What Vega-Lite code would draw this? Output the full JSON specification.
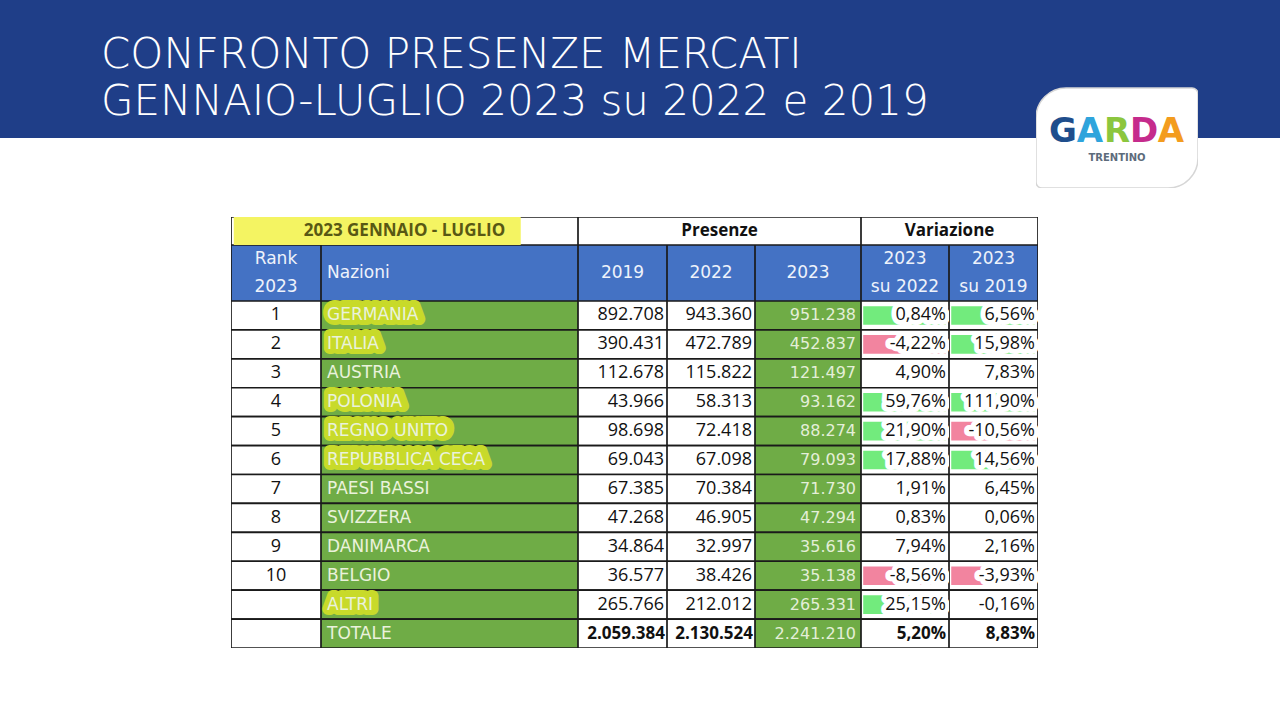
{
  "$schema": "https://vega.github.io/schema/vega-lite/v6.json",
  "padding": 0,
  "background": "white",
  "config": {
    "view": {"stroke": null},
    "locale": {"number": {"decimal": ",", "thousands": ".", "grouping": [3], "currency": ["", " €"], "minus": "-"}}
  },
  "datasets": {
    "tab": [
      {"rank": 1, "nazione": "GERMANIA", "v2019": 892708, "v2022": 943360, "v2023": 951238, "var22": 0.0084, "var19": 0.0656},
      {"rank": 2, "nazione": "ITALIA", "v2019": 390431, "v2022": 472789, "v2023": 452837, "var22": -0.0422, "var19": 0.1598},
      {"rank": 3, "nazione": "AUSTRIA", "v2019": 112678, "v2022": 115822, "v2023": 121497, "var22": 0.049, "var19": 0.0783},
      {"rank": 4, "nazione": "POLONIA", "v2019": 43966, "v2022": 58313, "v2023": 93162, "var22": 0.5976, "var19": 1.119},
      {"rank": 5, "nazione": "REGNO UNITO", "v2019": 98698, "v2022": 72418, "v2023": 88274, "var22": 0.219, "var19": -0.1056},
      {"rank": 6, "nazione": "REPUBBLICA CECA", "v2019": 69043, "v2022": 67098, "v2023": 79093, "var22": 0.1788, "var19": 0.1456},
      {"rank": 7, "nazione": "PAESI BASSI", "v2019": 67385, "v2022": 70384, "v2023": 71730, "var22": 0.0191, "var19": 0.0645},
      {"rank": 8, "nazione": "SVIZZERA", "v2019": 47268, "v2022": 46905, "v2023": 47294, "var22": 0.0083, "var19": 0.0006},
      {"rank": 9, "nazione": "DANIMARCA", "v2019": 34864, "v2022": 32997, "v2023": 35616, "var22": 0.0794, "var19": 0.0216},
      {"rank": 10, "nazione": "BELGIO", "v2019": 36577, "v2022": 38426, "v2023": 35138, "var22": -0.0856, "var19": -0.0393},
      {"rank": null, "nazione": "ALTRI", "v2019": 265766, "v2022": 212012, "v2023": 265331, "var22": 0.2515, "var19": -0.0016},
      {"rank": null, "nazione": "TOTALE", "v2019": 2059384, "v2022": 2130524, "v2023": 2241210, "var22": 0.052, "var19": 0.0883}
    ]
  },
  "spacing": 29,
  "vconcat": [
    {
      "spacing": 0,
      "bounds": "flush",
      "hconcat": [
        {
          "width": 1036, "height": 138,
          "data": {"values": [{"line": "CONFRONTO PRESENZE MERCATI\nGENNAIO-LUGLIO 2023 su 2022 e 2019"}]},
          "layer": [
            {"mark": {"type": "rect", "color": "#1f3e88"}, "encoding": {}},
            {"mark": {"type": "text", "align": "left", "baseline": "alphabetic", "dx": 101, "dy": -1, "lineBreak": "\n", "lineHeight": 47, "color": "white", "font": "DejaVu Sans", "fontSize": 42, "fontWeight": 200},
             "encoding": {"x": {"datum": 0, "type": "quantitative", "scale": {"domain": [0, 1]}, "axis": null}, "text": {"field": "line"}}}
          ]
        },
        {
          "width": 162, "height": 188,
          "layer": [
            {
              "data": {"values": [{}]},
              "mark": {"type": "rect", "color": "#1f3e88"},
              "encoding": {"y": {"datum": 0, "type": "quantitative", "scale": {"domain": [0, 1], "reverse": true}, "axis": null}, "y2": {"datum": 0.734}}
            },
            {
              "data": {"values": [{}]},
              "mark": {"type": "rect", "color": "white", "stroke": "#d6d6d6", "strokeWidth": 1.5, "clip": true, "cornerRadiusTopLeft": 30, "cornerRadiusBottomRight": 30, "cornerRadiusTopRight": 6, "cornerRadiusBottomLeft": 6},
              "encoding": {"y": {"datum": 0.468, "type": "quantitative", "scale": {"domain": [0, 1], "reverse": true}, "axis": null}, "y2": {"datum": 1}}
            },
            {
              "data": {"values": [{"i": 1, "letter": "G"}, {"i": 2, "letter": "A"}, {"i": 3, "letter": "R"}, {"i": 4, "letter": "D"}, {"i": 5, "letter": "A"}]},
              "mark": {"type": "text", "font": "DejaVu Sans", "fontWeight": "bold", "fontSize": 34},
              "encoding": {
                "x": {"field": "i", "type": "ordinal", "scale": {"padding": 1.15}, "axis": null},
                "y": {"datum": 0.7, "type": "quantitative", "scale": {"domain": [0, 1], "reverse": true}, "axis": null},
                "text": {"field": "letter"},
                "color": {"field": "i", "type": "ordinal", "scale": {"range": ["#1f4e8c", "#2fa4dc", "#8cc63e", "#c52b8c", "#f39c1e"]}, "legend": null}
              }
            },
            {
              "data": {"values": [{"t": "TRENTINO"}]},
              "mark": {"type": "text", "font": "DejaVu Sans", "fontWeight": "bold", "fontSize": 10, "color": "#5d6b7b"},
              "encoding": {"y": {"datum": 0.843, "type": "quantitative", "scale": {"domain": [0, 1], "reverse": true}, "axis": null}, "text": {"field": "t"}}
            }
          ]
        },
        {
          "width": 82, "height": 138,
          "data": {"values": [{}]},
          "mark": {"type": "rect", "color": "#1f3e88"},
          "encoding": {}
        }
      ]
    },
    {
      "spacing": 0,
      "hconcat": [
        {
          "width": 231, "height": 1,
          "data": {"values": [{}]},
          "mark": {"type": "rect", "opacity": 0},
          "encoding": {}
        },
        {
          "spacing": 0,
          "vconcat": [
            {
              "spacing": 0,
              "bounds": "flush",
              "hconcat": [
                {
                  "width": 347, "height": 28,
                  "data": {"values": [{"label": "2023 GENNAIO - LUGLIO"}]},
                  "layer": [
                    {"mark": {"type": "rect", "fill": "white", "stroke": "#1a1a1a", "strokeWidth": 1.7, "clip": true}, "encoding": {}},
                    {"mark": {"type": "rect", "color": "#f4f462"}, "encoding": {"x": {"datum": 0.008, "type": "quantitative", "scale": {"domain": [0, 1]}, "axis": null}, "x2": {"datum": 0.835}}},
                    {"mark": {"type": "text", "font": "Open Sans", "fontWeight": "bold", "fontSize": 17, "color": "#585814"}, "encoding": {"text": {"field": "label"}}}
                  ]
                },
                {
                  "width": 283, "height": 28,
                  "data": {"values": [{"label": "Presenze"}]},
                  "layer": [
                    {"mark": {"type": "rect", "fill": "white", "stroke": "#1a1a1a", "strokeWidth": 1.7, "clip": true}, "encoding": {}},
                    {"mark": {"type": "text", "font": "Open Sans", "fontWeight": "bold", "fontSize": 17, "color": "#111111"}, "encoding": {"text": {"field": "label"}}}
                  ]
                },
                {
                  "width": 177, "height": 28,
                  "data": {"values": [{"label": "Variazione"}]},
                  "layer": [
                    {"mark": {"type": "rect", "fill": "white", "stroke": "#1a1a1a", "strokeWidth": 1.7, "clip": true}, "encoding": {}},
                    {"mark": {"type": "text", "font": "Open Sans", "fontWeight": "bold", "fontSize": 17, "color": "#111111"}, "encoding": {"text": {"field": "label"}}}
                  ]
                }
              ]
            },
            {
              "spacing": 0,
              "bounds": "flush",
              "hconcat": [
                {
                  "width": 90, "height": 56,
                  "data": {"values": [{"label": "Rank\n2023"}]},
                  "layer": [
                    {"mark": {"type": "rect", "fill": "#4472c4", "stroke": "#1a1a1a", "strokeWidth": 1.7, "clip": true}, "encoding": {}},
                    {"mark": {"type": "text", "font": "DejaVu Sans", "fontSize": 17, "color": "#eef2fb", "lineBreak": "\n", "lineHeight": 28, "dy": -14}, "encoding": {"text": {"field": "label"}}}
                  ]
                },
                {
                  "width": 257, "height": 56,
                  "data": {"values": [{"label": "Nazioni"}]},
                  "layer": [
                    {"mark": {"type": "rect", "fill": "#4472c4", "stroke": "#1a1a1a", "strokeWidth": 1.7, "clip": true}, "encoding": {}},
                    {"mark": {"type": "text", "font": "DejaVu Sans", "fontSize": 17, "color": "#eef2fb", "align": "left", "dx": 6}, "encoding": {"x": {"datum": 0, "type": "quantitative", "scale": {"domain": [0, 1]}, "axis": null}, "text": {"field": "label"}}}
                  ]
                },
                {
                  "width": 89, "height": 56,
                  "data": {"values": [{"label": "2019"}]},
                  "layer": [
                    {"mark": {"type": "rect", "fill": "#4472c4", "stroke": "#1a1a1a", "strokeWidth": 1.7, "clip": true}, "encoding": {}},
                    {"mark": {"type": "text", "font": "DejaVu Sans", "fontSize": 17, "color": "#eef2fb"}, "encoding": {"text": {"field": "label"}}}
                  ]
                },
                {
                  "width": 88, "height": 56,
                  "data": {"values": [{"label": "2022"}]},
                  "layer": [
                    {"mark": {"type": "rect", "fill": "#4472c4", "stroke": "#1a1a1a", "strokeWidth": 1.7, "clip": true}, "encoding": {}},
                    {"mark": {"type": "text", "font": "DejaVu Sans", "fontSize": 17, "color": "#eef2fb"}, "encoding": {"text": {"field": "label"}}}
                  ]
                },
                {
                  "width": 106, "height": 56,
                  "data": {"values": [{"label": "2023"}]},
                  "layer": [
                    {"mark": {"type": "rect", "fill": "#4472c4", "stroke": "#1a1a1a", "strokeWidth": 1.7, "clip": true}, "encoding": {}},
                    {"mark": {"type": "text", "font": "DejaVu Sans", "fontSize": 17, "color": "#eef2fb"}, "encoding": {"text": {"field": "label"}}}
                  ]
                },
                {
                  "width": 88, "height": 56,
                  "data": {"values": [{"label": "2023\nsu 2022"}]},
                  "layer": [
                    {"mark": {"type": "rect", "fill": "#4472c4", "stroke": "#1a1a1a", "strokeWidth": 1.7, "clip": true}, "encoding": {}},
                    {"mark": {"type": "text", "font": "DejaVu Sans", "fontSize": 17, "color": "#eef2fb", "lineBreak": "\n", "lineHeight": 28, "dy": -14}, "encoding": {"text": {"field": "label"}}}
                  ]
                },
                {
                  "width": 89, "height": 56,
                  "data": {"values": [{"label": "2023\nsu 2019"}]},
                  "layer": [
                    {"mark": {"type": "rect", "fill": "#4472c4", "stroke": "#1a1a1a", "strokeWidth": 1.7, "clip": true}, "encoding": {}},
                    {"mark": {"type": "text", "font": "DejaVu Sans", "fontSize": 17, "color": "#eef2fb", "lineBreak": "\n", "lineHeight": 28, "dy": -14}, "encoding": {"text": {"field": "label"}}}
                  ]
                }
              ]
            },
            {
              "spacing": 0,
              "bounds": "flush",
              "hconcat": [
                {
                  "width": 90, "height": 347,
                  "data": {"name": "tab"},
                  "layer": [
                    {"mark": {"type": "rect", "fill": "white", "stroke": "#1a1a1a", "strokeWidth": 1.7, "clip": true},
                     "encoding": {"y": {"field": "nazione", "type": "nominal", "sort": null, "scale": {"domain": ["GERMANIA", "ITALIA", "AUSTRIA", "POLONIA", "REGNO UNITO", "REPUBBLICA CECA", "PAESI BASSI", "SVIZZERA", "DANIMARCA", "BELGIO", "ALTRI", "TOTALE"], "paddingInner": 0, "paddingOuter": 0}, "axis": null}}},
                    {"transform": [{"filter": {"field": "rank", "valid": true}}],
                     "mark": {"type": "text", "font": "Open Sans", "fontSize": 18, "color": "#111111"},
                     "encoding": {"y": {"field": "nazione", "type": "nominal", "sort": null, "scale": {"domain": ["GERMANIA", "ITALIA", "AUSTRIA", "POLONIA", "REGNO UNITO", "REPUBBLICA CECA", "PAESI BASSI", "SVIZZERA", "DANIMARCA", "BELGIO", "ALTRI", "TOTALE"], "paddingInner": 0, "paddingOuter": 0}, "axis": null},
                                  "text": {"field": "rank", "type": "quantitative", "format": "d"}}}
                  ]
                },
                {
                  "width": 257, "height": 347,
                  "data": {"name": "tab"},
                  "layer": [
                    {"mark": {"type": "rect", "fill": "#6fac46", "stroke": "#1a1a1a", "strokeWidth": 1.7, "clip": true},
                     "encoding": {"y": {"field": "nazione", "type": "nominal", "sort": null, "scale": {"domain": ["GERMANIA", "ITALIA", "AUSTRIA", "POLONIA", "REGNO UNITO", "REPUBBLICA CECA", "PAESI BASSI", "SVIZZERA", "DANIMARCA", "BELGIO", "ALTRI", "TOTALE"], "paddingInner": 0, "paddingOuter": 0}, "axis": null}}},
                    {"transform": [{"filter": {"field": "nazione", "oneOf": ["GERMANIA", "ITALIA", "POLONIA", "REGNO UNITO", "REPUBBLICA CECA", "ALTRI"]}}],
                     "mark": {"type": "text", "font": "DejaVu Sans", "fontSize": 17, "align": "left", "dx": 7, "dy": -1, "color": "#c8da2a", "stroke": "#c8da2a", "strokeWidth": 12, "strokeJoin": "round"},
                     "encoding": {"y": {"field": "nazione", "type": "nominal", "sort": null, "scale": {"domain": ["GERMANIA", "ITALIA", "AUSTRIA", "POLONIA", "REGNO UNITO", "REPUBBLICA CECA", "PAESI BASSI", "SVIZZERA", "DANIMARCA", "BELGIO", "ALTRI", "TOTALE"], "paddingInner": 0, "paddingOuter": 0}, "axis": null},
                                  "x": {"datum": 0, "type": "quantitative", "scale": {"domain": [0, 1]}, "axis": null},
                                  "text": {"field": "nazione"}}},
                    {"mark": {"type": "text", "font": "DejaVu Sans", "fontSize": 17, "align": "left", "dx": 6, "color": "#eaf2dc"},
                     "encoding": {"y": {"field": "nazione", "type": "nominal", "sort": null, "scale": {"domain": ["GERMANIA", "ITALIA", "AUSTRIA", "POLONIA", "REGNO UNITO", "REPUBBLICA CECA", "PAESI BASSI", "SVIZZERA", "DANIMARCA", "BELGIO", "ALTRI", "TOTALE"], "paddingInner": 0, "paddingOuter": 0}, "axis": null},
                                  "x": {"datum": 0, "type": "quantitative", "scale": {"domain": [0, 1]}, "axis": null},
                                  "text": {"field": "nazione"}}}
                  ]
                },
                {
                  "width": 89, "height": 347,
                  "data": {"name": "tab"},
                  "layer": [
                    {"mark": {"type": "rect", "fill": "white", "stroke": "#1a1a1a", "strokeWidth": 1.7, "clip": true},
                     "encoding": {"y": {"field": "nazione", "type": "nominal", "sort": null, "scale": {"domain": ["GERMANIA", "ITALIA", "AUSTRIA", "POLONIA", "REGNO UNITO", "REPUBBLICA CECA", "PAESI BASSI", "SVIZZERA", "DANIMARCA", "BELGIO", "ALTRI", "TOTALE"], "paddingInner": 0, "paddingOuter": 0}, "axis": null}}},
                    {"transform": [{"filter": "datum.nazione !== 'TOTALE'"}],
                     "mark": {"type": "text", "font": "Open Sans", "fontSize": 18, "align": "right", "dx": -3, "color": "#111111"},
                     "encoding": {"y": {"field": "nazione", "type": "nominal", "sort": null, "scale": {"domain": ["GERMANIA", "ITALIA", "AUSTRIA", "POLONIA", "REGNO UNITO", "REPUBBLICA CECA", "PAESI BASSI", "SVIZZERA", "DANIMARCA", "BELGIO", "ALTRI", "TOTALE"], "paddingInner": 0, "paddingOuter": 0}, "axis": null},
                                  "x": {"datum": 1, "type": "quantitative", "scale": {"domain": [0, 1]}, "axis": null},
                                  "text": {"field": "v2019", "type": "quantitative", "format": ",.0f"}}},
                    {"transform": [{"filter": "datum.nazione === 'TOTALE'"}],
                     "mark": {"type": "text", "font": "Open Sans", "fontSize": 17, "fontWeight": "bold", "align": "right", "dx": -2, "color": "#111111"},
                     "encoding": {"y": {"field": "nazione", "type": "nominal", "sort": null, "scale": {"domain": ["GERMANIA", "ITALIA", "AUSTRIA", "POLONIA", "REGNO UNITO", "REPUBBLICA CECA", "PAESI BASSI", "SVIZZERA", "DANIMARCA", "BELGIO", "ALTRI", "TOTALE"], "paddingInner": 0, "paddingOuter": 0}, "axis": null},
                                  "x": {"datum": 1, "type": "quantitative", "scale": {"domain": [0, 1]}, "axis": null},
                                  "text": {"field": "v2019", "type": "quantitative", "format": ",.0f"}}}
                  ]
                },
                {
                  "width": 88, "height": 347,
                  "data": {"name": "tab"},
                  "layer": [
                    {"mark": {"type": "rect", "fill": "white", "stroke": "#1a1a1a", "strokeWidth": 1.7, "clip": true},
                     "encoding": {"y": {"field": "nazione", "type": "nominal", "sort": null, "scale": {"domain": ["GERMANIA", "ITALIA", "AUSTRIA", "POLONIA", "REGNO UNITO", "REPUBBLICA CECA", "PAESI BASSI", "SVIZZERA", "DANIMARCA", "BELGIO", "ALTRI", "TOTALE"], "paddingInner": 0, "paddingOuter": 0}, "axis": null}}},
                    {"transform": [{"filter": "datum.nazione !== 'TOTALE'"}],
                     "mark": {"type": "text", "font": "Open Sans", "fontSize": 18, "align": "right", "dx": -3, "color": "#111111"},
                     "encoding": {"y": {"field": "nazione", "type": "nominal", "sort": null, "scale": {"domain": ["GERMANIA", "ITALIA", "AUSTRIA", "POLONIA", "REGNO UNITO", "REPUBBLICA CECA", "PAESI BASSI", "SVIZZERA", "DANIMARCA", "BELGIO", "ALTRI", "TOTALE"], "paddingInner": 0, "paddingOuter": 0}, "axis": null},
                                  "x": {"datum": 1, "type": "quantitative", "scale": {"domain": [0, 1]}, "axis": null},
                                  "text": {"field": "v2022", "type": "quantitative", "format": ",.0f"}}},
                    {"transform": [{"filter": "datum.nazione === 'TOTALE'"}],
                     "mark": {"type": "text", "font": "Open Sans", "fontSize": 17, "fontWeight": "bold", "align": "right", "dx": -2, "color": "#111111"},
                     "encoding": {"y": {"field": "nazione", "type": "nominal", "sort": null, "scale": {"domain": ["GERMANIA", "ITALIA", "AUSTRIA", "POLONIA", "REGNO UNITO", "REPUBBLICA CECA", "PAESI BASSI", "SVIZZERA", "DANIMARCA", "BELGIO", "ALTRI", "TOTALE"], "paddingInner": 0, "paddingOuter": 0}, "axis": null},
                                  "x": {"datum": 1, "type": "quantitative", "scale": {"domain": [0, 1]}, "axis": null},
                                  "text": {"field": "v2022", "type": "quantitative", "format": ",.0f"}}}
                  ]
                },
                {
                  "width": 106, "height": 347,
                  "data": {"name": "tab"},
                  "layer": [
                    {"mark": {"type": "rect", "fill": "#6fac46", "stroke": "#1a1a1a", "strokeWidth": 1.7, "clip": true},
                     "encoding": {"y": {"field": "nazione", "type": "nominal", "sort": null, "scale": {"domain": ["GERMANIA", "ITALIA", "AUSTRIA", "POLONIA", "REGNO UNITO", "REPUBBLICA CECA", "PAESI BASSI", "SVIZZERA", "DANIMARCA", "BELGIO", "ALTRI", "TOTALE"], "paddingInner": 0, "paddingOuter": 0}, "axis": null}}},
                    {"mark": {"type": "text", "font": "DejaVu Sans", "fontSize": 16, "align": "right", "dx": -5, "color": "#e4efd8"},
                     "encoding": {"y": {"field": "nazione", "type": "nominal", "sort": null, "scale": {"domain": ["GERMANIA", "ITALIA", "AUSTRIA", "POLONIA", "REGNO UNITO", "REPUBBLICA CECA", "PAESI BASSI", "SVIZZERA", "DANIMARCA", "BELGIO", "ALTRI", "TOTALE"], "paddingInner": 0, "paddingOuter": 0}, "axis": null},
                                  "x": {"datum": 1, "type": "quantitative", "scale": {"domain": [0, 1]}, "axis": null},
                                  "text": {"field": "v2023", "type": "quantitative", "format": ",.0f"}}}
                  ]
                },
                {
                  "width": 88, "height": 347,
                  "data": {"name": "tab"},
                  "layer": [
                    {"mark": {"type": "rect", "fill": "white", "stroke": "#1a1a1a", "strokeWidth": 1.7, "clip": true},
                     "encoding": {"y": {"field": "nazione", "type": "nominal", "sort": null, "scale": {"domain": ["GERMANIA", "ITALIA", "AUSTRIA", "POLONIA", "REGNO UNITO", "REPUBBLICA CECA", "PAESI BASSI", "SVIZZERA", "DANIMARCA", "BELGIO", "ALTRI", "TOTALE"], "paddingInner": 0, "paddingOuter": 0}, "axis": null}}},
                    {"transform": [{"filter": {"field": "nazione", "oneOf": ["GERMANIA", "ITALIA", "POLONIA", "REGNO UNITO", "REPUBBLICA CECA", "BELGIO", "ALTRI"]}}],
                     "mark": {"type": "rect", "height": {"band": 0.64}},
                     "encoding": {"y": {"field": "nazione", "type": "nominal", "sort": null, "scale": {"domain": ["GERMANIA", "ITALIA", "AUSTRIA", "POLONIA", "REGNO UNITO", "REPUBBLICA CECA", "PAESI BASSI", "SVIZZERA", "DANIMARCA", "BELGIO", "ALTRI", "TOTALE"], "paddingInner": 0, "paddingOuter": 0}, "axis": null},
                                  "x": {"datum": 0.025, "type": "quantitative", "scale": {"domain": [0, 1]}, "axis": null},
                                  "x2": {"datum": 0.96},
                                  "color": {"condition": {"test": "datum.var22 < 0", "value": "#f2849f"}, "value": "#72eb7d"}}},
                    {"transform": [{"filter": {"field": "nazione", "oneOf": ["GERMANIA", "ITALIA", "POLONIA", "REGNO UNITO", "REPUBBLICA CECA", "BELGIO", "ALTRI"]}}],
                     "mark": {"type": "text", "font": "Open Sans", "fontSize": 18, "align": "right", "dx": -3, "color": "white", "stroke": "white", "strokeWidth": 10, "strokeJoin": "round"},
                     "encoding": {"y": {"field": "nazione", "type": "nominal", "sort": null, "scale": {"domain": ["GERMANIA", "ITALIA", "AUSTRIA", "POLONIA", "REGNO UNITO", "REPUBBLICA CECA", "PAESI BASSI", "SVIZZERA", "DANIMARCA", "BELGIO", "ALTRI", "TOTALE"], "paddingInner": 0, "paddingOuter": 0}, "axis": null},
                                  "x": {"datum": 1, "type": "quantitative", "scale": {"domain": [0, 1]}, "axis": null},
                                  "text": {"field": "var22", "type": "quantitative", "format": ".2%"}}},
                    {"transform": [{"filter": "datum.nazione !== 'TOTALE'"}],
                     "mark": {"type": "text", "font": "Open Sans", "fontSize": 18, "align": "right", "dx": -3, "color": "#111111"},
                     "encoding": {"y": {"field": "nazione", "type": "nominal", "sort": null, "scale": {"domain": ["GERMANIA", "ITALIA", "AUSTRIA", "POLONIA", "REGNO UNITO", "REPUBBLICA CECA", "PAESI BASSI", "SVIZZERA", "DANIMARCA", "BELGIO", "ALTRI", "TOTALE"], "paddingInner": 0, "paddingOuter": 0}, "axis": null},
                                  "x": {"datum": 1, "type": "quantitative", "scale": {"domain": [0, 1]}, "axis": null},
                                  "text": {"field": "var22", "type": "quantitative", "format": ".2%"}}},
                    {"transform": [{"filter": "datum.nazione === 'TOTALE'"}],
                     "mark": {"type": "text", "font": "Open Sans", "fontSize": 17, "fontWeight": "bold", "align": "right", "dx": -3, "color": "#111111"},
                     "encoding": {"y": {"field": "nazione", "type": "nominal", "sort": null, "scale": {"domain": ["GERMANIA", "ITALIA", "AUSTRIA", "POLONIA", "REGNO UNITO", "REPUBBLICA CECA", "PAESI BASSI", "SVIZZERA", "DANIMARCA", "BELGIO", "ALTRI", "TOTALE"], "paddingInner": 0, "paddingOuter": 0}, "axis": null},
                                  "x": {"datum": 1, "type": "quantitative", "scale": {"domain": [0, 1]}, "axis": null},
                                  "text": {"field": "var22", "type": "quantitative", "format": ".2%"}}}
                  ]
                },
                {
                  "width": 89, "height": 347,
                  "data": {"name": "tab"},
                  "layer": [
                    {"mark": {"type": "rect", "fill": "white", "stroke": "#1a1a1a", "strokeWidth": 1.7, "clip": true},
                     "encoding": {"y": {"field": "nazione", "type": "nominal", "sort": null, "scale": {"domain": ["GERMANIA", "ITALIA", "AUSTRIA", "POLONIA", "REGNO UNITO", "REPUBBLICA CECA", "PAESI BASSI", "SVIZZERA", "DANIMARCA", "BELGIO", "ALTRI", "TOTALE"], "paddingInner": 0, "paddingOuter": 0}, "axis": null}}},
                    {"transform": [{"filter": {"field": "nazione", "oneOf": ["GERMANIA", "ITALIA", "POLONIA", "REGNO UNITO", "REPUBBLICA CECA", "BELGIO"]}}],
                     "mark": {"type": "rect", "height": {"band": 0.64}},
                     "encoding": {"y": {"field": "nazione", "type": "nominal", "sort": null, "scale": {"domain": ["GERMANIA", "ITALIA", "AUSTRIA", "POLONIA", "REGNO UNITO", "REPUBBLICA CECA", "PAESI BASSI", "SVIZZERA", "DANIMARCA", "BELGIO", "ALTRI", "TOTALE"], "paddingInner": 0, "paddingOuter": 0}, "axis": null},
                                  "x": {"datum": 0.025, "type": "quantitative", "scale": {"domain": [0, 1]}, "axis": null},
                                  "x2": {"datum": 0.96},
                                  "color": {"condition": {"test": "datum.var19 < 0", "value": "#f2849f"}, "value": "#72eb7d"}}},
                    {"transform": [{"filter": {"field": "nazione", "oneOf": ["GERMANIA", "ITALIA", "POLONIA", "REGNO UNITO", "REPUBBLICA CECA", "BELGIO"]}}],
                     "mark": {"type": "text", "font": "Open Sans", "fontSize": 18, "align": "right", "dx": -3, "color": "white", "stroke": "white", "strokeWidth": 10, "strokeJoin": "round"},
                     "encoding": {"y": {"field": "nazione", "type": "nominal", "sort": null, "scale": {"domain": ["GERMANIA", "ITALIA", "AUSTRIA", "POLONIA", "REGNO UNITO", "REPUBBLICA CECA", "PAESI BASSI", "SVIZZERA", "DANIMARCA", "BELGIO", "ALTRI", "TOTALE"], "paddingInner": 0, "paddingOuter": 0}, "axis": null},
                                  "x": {"datum": 1, "type": "quantitative", "scale": {"domain": [0, 1]}, "axis": null},
                                  "text": {"field": "var19", "type": "quantitative", "format": ".2%"}}},
                    {"transform": [{"filter": "datum.nazione !== 'TOTALE'"}],
                     "mark": {"type": "text", "font": "Open Sans", "fontSize": 18, "align": "right", "dx": -3, "color": "#111111"},
                     "encoding": {"y": {"field": "nazione", "type": "nominal", "sort": null, "scale": {"domain": ["GERMANIA", "ITALIA", "AUSTRIA", "POLONIA", "REGNO UNITO", "REPUBBLICA CECA", "PAESI BASSI", "SVIZZERA", "DANIMARCA", "BELGIO", "ALTRI", "TOTALE"], "paddingInner": 0, "paddingOuter": 0}, "axis": null},
                                  "x": {"datum": 1, "type": "quantitative", "scale": {"domain": [0, 1]}, "axis": null},
                                  "text": {"field": "var19", "type": "quantitative", "format": ".2%"}}},
                    {"transform": [{"filter": "datum.nazione === 'TOTALE'"}],
                     "mark": {"type": "text", "font": "Open Sans", "fontSize": 17, "fontWeight": "bold", "align": "right", "dx": -3, "color": "#111111"},
                     "encoding": {"y": {"field": "nazione", "type": "nominal", "sort": null, "scale": {"domain": ["GERMANIA", "ITALIA", "AUSTRIA", "POLONIA", "REGNO UNITO", "REPUBBLICA CECA", "PAESI BASSI", "SVIZZERA", "DANIMARCA", "BELGIO", "ALTRI", "TOTALE"], "paddingInner": 0, "paddingOuter": 0}, "axis": null},
                                  "x": {"datum": 1, "type": "quantitative", "scale": {"domain": [0, 1]}, "axis": null},
                                  "text": {"field": "var19", "type": "quantitative", "format": ".2%"}}}
                  ]
                }
              ]
            }
          ]
        }
      ]
    }
  ]
}
